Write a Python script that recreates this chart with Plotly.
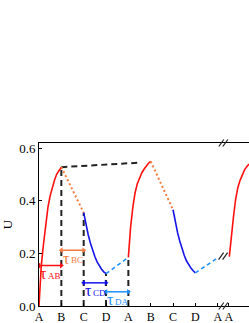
import plotly.graph_objects as go

# ---------------- data ----------------
tick_vals = [0, 1, 2, 3, 4, 5, 6, 7, 8, 8.5]
tick_text = ["A", "B", "C", "D", "A", "B", "C", "D", "A", "A"]
y_ticks = [0.0, 0.2, 0.4, 0.6]

rise1_x = [0, 0.05, 0.1, 0.2, 0.3, 0.4, 0.5, 0.6, 0.7, 0.8, 0.9, 1.0]
rise1_u = [0, 0.08, 0.15, 0.235, 0.305, 0.375, 0.42, 0.455, 0.48, 0.503, 0.518, 0.528]
fall1_x = [1, 2]
fall1_u = [0.528, 0.355]
decay1_x = [2.0, 2.1, 2.2, 2.3, 2.4, 2.5, 2.6, 2.7, 2.8, 2.9, 3.0]
decay1_u = [0.355, 0.31, 0.272, 0.24, 0.212, 0.188, 0.168, 0.152, 0.14, 0.13, 0.123]
rec1_x = [3, 4]
rec1_u = [0.123, 0.185]

rise2_x = [4.0, 4.05, 4.1, 4.2, 4.3, 4.4, 4.5, 4.6, 4.7, 4.8, 4.9, 5.0]
rise2_u = [0.185, 0.25, 0.30, 0.375, 0.43, 0.465, 0.488, 0.506, 0.52, 0.533, 0.543, 0.55]
fall2_x = [5, 6]
fall2_u = [0.55, 0.366]
decay2_x = [6.0, 6.1, 6.2, 6.3, 6.4, 6.5, 6.6, 6.7, 6.8, 6.9, 7.0]
decay2_u = [0.366, 0.32, 0.28, 0.247, 0.218, 0.193, 0.172, 0.156, 0.144, 0.134, 0.126]
rec2_x = [7, 8.03]
rec2_u = [0.126, 0.185]

rise3_x = [8.52, 8.57, 8.62, 8.7, 8.8, 8.9, 9.0, 9.1, 9.2, 9.3, 9.4]
rise3_u = [0.188, 0.235, 0.27, 0.335, 0.405, 0.45, 0.478, 0.50, 0.518, 0.53, 0.54]

peak_x = [1, 4.55]
peak_u = [0.528, 0.5455]

vlines_x = [1, 2, 3, 4]
vlines_top = [0.528, 0.355, 0.123, 0.185]

tau_labels = ["AB", "BC", "CD", "DA"]
tau_start = [0, 1, 2, 3]
tau_end = [1, 2, 3, 4]
tau_y = [0.154, 0.212, 0.088, 0.054]

break_axis_x = 8.25
break_curve_x = 8.24
break_curve_u = 0.19

RED = "#ff1010"
ORANGE = "#f47c3c"
BLUE = "#1414e8"
LBLUE = "#1e90ff"
BLACK = "#222222"
tau_colors = [RED, ORANGE, BLUE, LBLUE]

FONT = "Liberation Serif"

fig = go.Figure()

def add_line(x, y, color, dash="solid", width=1.6):
    fig.add_trace(go.Scatter(x=x, y=y, mode="lines",
                             line=dict(color=color, dash=dash, width=width),
                             hoverinfo="skip", showlegend=False))

# vertical dashed guides
for vx, vt in zip(vlines_x, vlines_top):
    add_line([vx, vx], [0, vt], BLACK, "6px,4px", 2)
add_line(peak_x, peak_u, BLACK, "6px,4px", 2)

for (x, u, c, d, w) in [
    (rise1_x, rise1_u, RED, "solid", 1.6),
    (fall1_x, fall1_u, ORANGE, "2px,2.5px", 2),
    (decay1_x, decay1_u, BLUE, "solid", 1.6),
    (rec1_x, rec1_u, LBLUE, "4px,3px", 1.6),
    (rise2_x, rise2_u, RED, "solid", 1.6),
    (fall2_x, fall2_u, ORANGE, "2px,2.5px", 2),
    (decay2_x, decay2_u, BLUE, "solid", 1.6),
    (rec2_x, rec2_u, LBLUE, "4px,3px", 1.6),
    (rise3_x, rise3_u, RED, "solid", 1.6),
]:
    add_line(x, u, c, d, w)

# tau arrows (double headed) and labels
annotations = []
for lab, xs, xe, ty, col in zip(tau_labels, tau_start, tau_end, tau_y, tau_colors):
    fig.add_trace(go.Scatter(x=[xs, xe], y=[ty, ty], mode="lines+markers",
                             line=dict(color=col, width=1.5),
                             marker=dict(symbol=["triangle-left", "triangle-right"],
                                         size=5, color=col),
                             hoverinfo="skip", showlegend=False))
    mid = (xs + xe) / 2
    annotations.append(dict(x=mid, y=ty, xref="x", yref="y", text="τ",
                            showarrow=False, xanchor="right", yanchor="middle",
                            xshift=-2, yshift=-8, borderpad=0,
                            font=dict(family=FONT, size=16, color=col)))
    annotations.append(dict(x=mid, y=ty, xref="x", yref="y", text=lab,
                            showarrow=False, xanchor="left", yanchor="middle",
                            xshift=-3, yshift=-10, borderpad=0,
                            font=dict(family=FONT, size=9, color=col)))

# break marks
W, H = 249, 323
ML, MR, MT, MB = 39, 0, 143, 17
xr = [0, 9.4]
yr = [0, 0.62]
px_x = (xr[1] - xr[0]) / (W - ML - MR)
px_yp = 1.0 / (H - MT - MB)
px_y = (yr[1] - yr[0]) / (H - MT - MB)
shapes = []
for off in (-2, 2):
    for yp in (0, 1):
        cx = break_axis_x + off * px_x
        shapes.append(dict(type="line", xref="x", yref="paper",
                           x0=cx - 2.5 * px_x, x1=cx + 2.5 * px_x,
                           y0=yp - 3.5 * px_yp, y1=yp + 3.5 * px_yp,
                           line=dict(color=BLACK, width=1.2)))
    cx = break_curve_x + off * px_x
    shapes.append(dict(type="line", xref="x", yref="y",
                       x0=cx - 2.5 * px_x, x1=cx + 2.5 * px_x,
                       y0=break_curve_u - 3.5 * px_y, y1=break_curve_u + 3.5 * px_y,
                       line=dict(color=BLACK, width=1.2)))

fig.update_layout(
    width=W, height=H,
    margin=dict(l=ML, r=MR, t=MT, b=MB),
    paper_bgcolor="white", plot_bgcolor="white",
    font=dict(family=FONT, color="black"),
    annotations=annotations, shapes=shapes,
    xaxis=dict(range=xr, tickmode="array", tickvals=tick_vals, ticktext=tick_text,
               showgrid=False, zeroline=False, showline=True, linecolor="black",
               linewidth=1, mirror=True, ticks="inside", ticklen=3, tickcolor="black",
               tickfont=dict(family=FONT, size=12, color="black"), automargin=False),
    yaxis=dict(range=yr, tickmode="array", tickvals=y_ticks,
               ticktext=["%.1f" % v for v in y_ticks],
               showgrid=False, zeroline=False, showline=True, linecolor="black",
               linewidth=1, ticks="inside", ticklen=3, tickcolor="black",
               tickfont=dict(family=FONT, size=13, color="black"),
               title=dict(text="U", font=dict(family=FONT, size=13, color="black"),
                          standoff=6),
               automargin=False),
)

fig.write_html("out.html", config={"displayModeBar": False},
               post_script="document.body.style.margin='0';document.body.style.overflow='hidden';")
